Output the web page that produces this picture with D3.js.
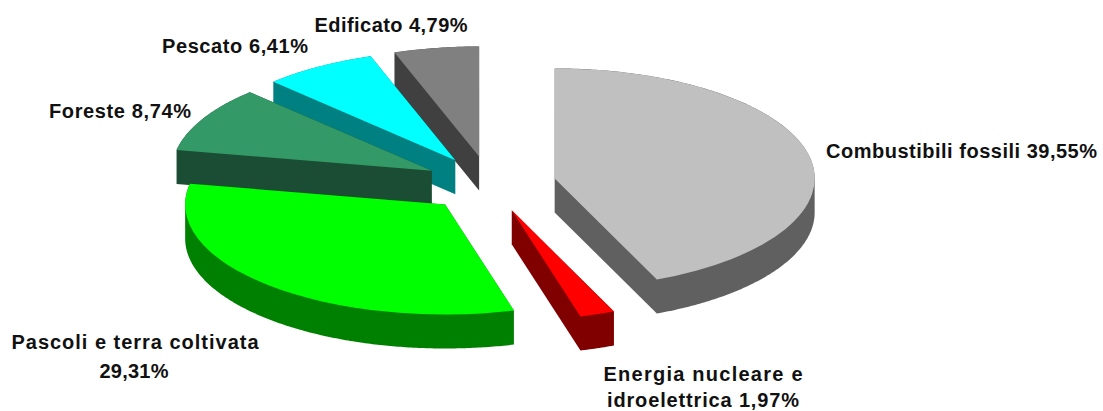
<!DOCTYPE html>
<html>
<head>
<meta charset="utf-8">
<script src="https://cdn.jsdelivr.net/npm/d3@7"></script>
<style>
  html, body { margin: 0; background: #fff; }
  svg { display: block; }
  text { font-family: "Liberation Sans", Arial, sans-serif; font-weight: 700; font-size: 20px; fill: #111; }
</style>
</head>
<body>
<svg id="chart" width="1103" height="411"></svg>
<script>
// Ecological footprint shares, clockwise from twelve o'clock
const categories = ["Combustibili fossili", "Energia nucleare e idroelettrica", "Pascoli e terra coltivata", "Foreste", "Pescato", "Edificato"];
const shares = [39.55, 1.97, 29.31, 8.74, 6.41, 4.79];
const shareLabels = ["39,55%", "1,97%", "29,31%", "8,74%", "6,41%", "4,79%"];
const topColors = ["#c0c0c0", "#ff0000", "#00ff00", "#339966", "#00ffff", "#808080"];
const sideColors = ["#606060", "#800000", "#008000", "#1a4d33", "#008080", "#404040"];
const drawOrder = [5, 4, 3, 0, 1, 2];
const labelLines = [
  [["Combustibili fossili 39,55%", 826, 158, "start", 271]],
  [["Energia nucleare e", 703, 381, "middle", 199], ["idroelettrica 1,97%", 703, 407, "middle", 192]],
  [["Pascoli e terra coltivata", 135, 349, "middle", 247], ["29,31%", 134, 378, "middle", 69]],
  [["Foreste 8,74%", 120, 118, "middle", 142]],
  [["Pescato 6,41%", 235, 53, "middle", 146]],
  [["Edificato 4,79%", 391, 32, "middle", 153]]
];

// Pie geometry: a tilted disc with every slice pulled out along its bisector
const cx = 490, cy = 184, rx = 260, ry = 110, depth = 34, explode = 66;
const tilt = ry / rx;

const svg = d3.select("#chart");
const slices = d3.pie().sort(null).value(d => d)(shares);
const arc = d3.arc().innerRadius(0).outerRadius(rx);

// Rim and radial walls of a slice are the hull of its top outline and the
// same outline dropped by the disc thickness.
function wallOutline(s) {
  const steps = d3.range(s.startAngle, s.endAngle, 0.01).concat(s.endAngle);
  const outline = [[0, 0]].concat(steps.map(a => [rx * Math.sin(a), -ry * Math.cos(a)]));
  return d3.polygonHull(outline.concat(outline.map(([x, y]) => [x, y + depth])));
}

drawOrder.forEach(i => {
  const s = slices[i];
  const mid = (s.startAngle + s.endAngle) / 2;
  const g = svg.append("g")
    .attr("transform", `translate(${cx + explode * Math.sin(mid)},${cy - explode * tilt * Math.cos(mid)})`);
  g.append("path")
    .attr("d", d3.line()(wallOutline(s)) + "Z")
    .attr("fill", sideColors[i]);
  g.append("path")
    .attr("d", arc(s))
    .attr("transform", `scale(1,${tilt})`)
    .attr("fill", topColors[i]);
});

labelLines.forEach(lines => lines.forEach(([txt, x, y, anchor, width]) => {
  svg.append("text")
    .attr("x", x).attr("y", y)
    .attr("text-anchor", anchor)
    .attr("textLength", width)
    .attr("lengthAdjust", "spacing")
    .text(txt);
}));
</script>
</body>
</html>
